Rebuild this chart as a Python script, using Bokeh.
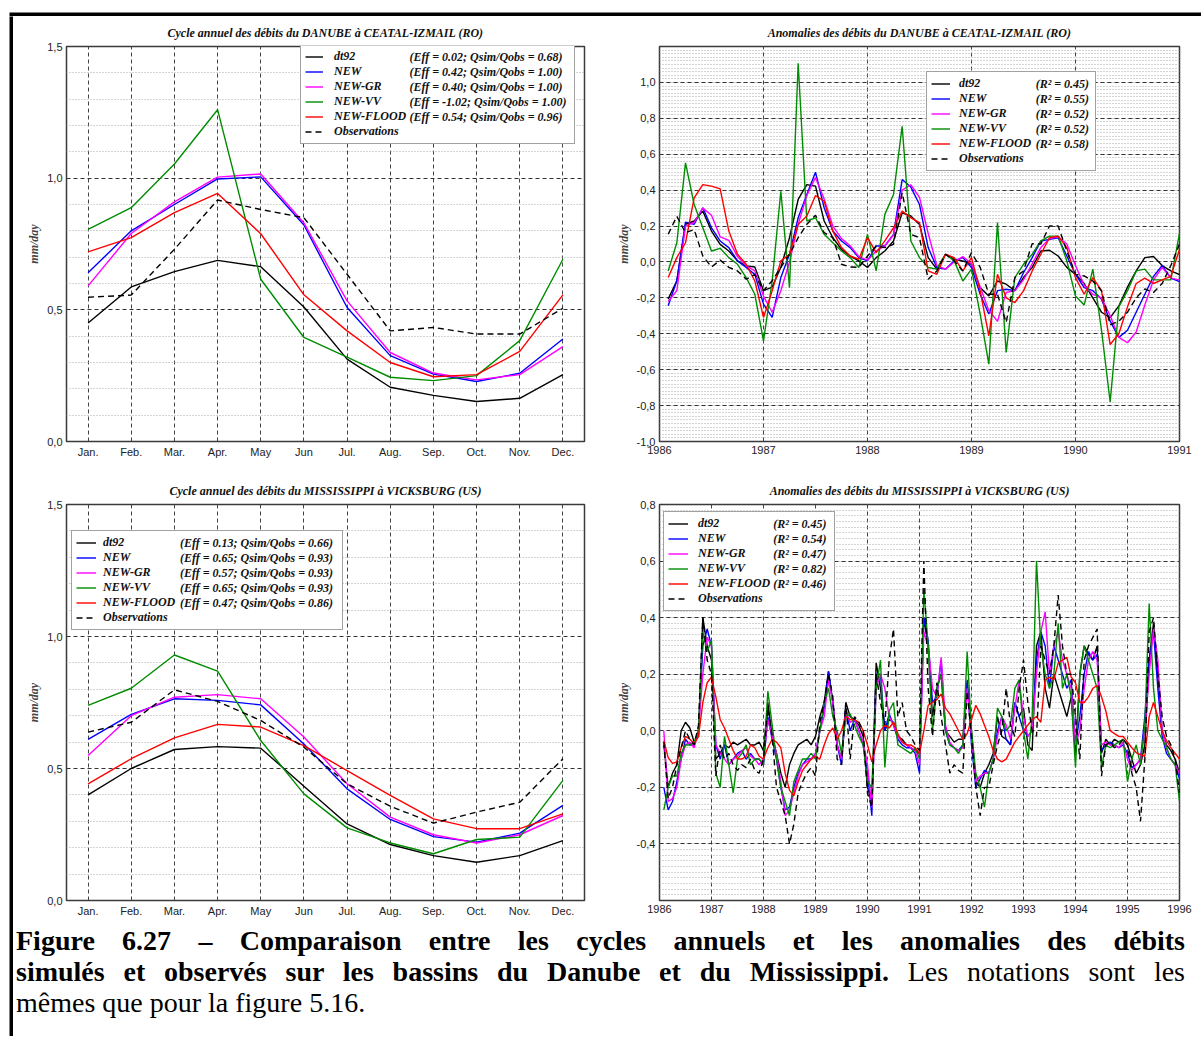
from bokeh.plotting import figure
from bokeh.models import (FixedTicker, NumeralTickFormatter, CustomJSTickFormatter, Legend,
                          LegendItem, Range1d, Div)
from bokeh.layouts import row, column
from bokeh.embed import file_html
from bokeh.resources import INLINE

SERIF = "Liberation Serif"
SANS = "Liberation Sans"

# ---------------- data ----------------
NAMES = ["dt92", "NEW", "NEW-GR", "NEW-VV", "NEW-FLOOD", "Observations"]
COLORS = ["#000000", "#0000ff", "#ff00ff", "#008c00", "#ff0000", "#000000"]
DASHES = ["solid", "solid", "solid", "solid", "solid", "6 4"]

MONTHS = list(range(1, 13))
MONTH_LABELS = ["Jan.", "Feb.", "Mar.", "Apr.", "May", "Jun",
                "Jul.", "Aug.", "Sep.", "Oct.", "Nov.", "Dec."]

# Danube annual cycle (mm/day)
dan_cyc_dt92 = [0.45, 0.587, 0.645, 0.688, 0.664, 0.511, 0.313, 0.206, 0.175, 0.152, 0.164, 0.254]
dan_cyc_new = [0.641, 0.80, 0.90, 0.997, 1.005, 0.822, 0.509, 0.326, 0.256, 0.228, 0.259, 0.389]
dan_cyc_gr = [0.591, 0.79, 0.91, 1.004, 1.016, 0.83, 0.534, 0.338, 0.26, 0.234, 0.254, 0.36]
dan_cyc_vv = [0.806, 0.888, 1.054, 1.26, 0.616, 0.395, 0.32, 0.244, 0.231, 0.25, 0.383, 0.692]
dan_cyc_flood = [0.72, 0.774, 0.869, 0.942, 0.789, 0.557, 0.42, 0.30, 0.246, 0.254, 0.342, 0.557]
dan_cyc_obs = [0.548, 0.556, 0.73, 0.917, 0.881, 0.85, 0.635, 0.42, 0.433, 0.408, 0.408, 0.506]
dan_cyc_stats = ["(Eff = 0.02; Qsim/Qobs = 0.68)", "(Eff = 0.42; Qsim/Qobs = 1.00)",
                 "(Eff = 0.40; Qsim/Qobs = 1.00)", "(Eff = -1.02; Qsim/Qobs = 1.00)",
                 "(Eff = 0.54; Qsim/Qobs = 0.96)"]

# Mississippi annual cycle (mm/day)
mis_cyc_dt92 = [0.40, 0.50, 0.572, 0.583, 0.577, 0.433, 0.29, 0.212, 0.17, 0.145, 0.17, 0.227]
mis_cyc_new = [0.61, 0.705, 0.764, 0.758, 0.741, 0.593, 0.423, 0.307, 0.242, 0.221, 0.255, 0.36]
mis_cyc_gr = [0.549, 0.70, 0.77, 0.78, 0.764, 0.619, 0.442, 0.316, 0.249, 0.218, 0.249, 0.322]
mis_cyc_vv = [0.739, 0.804, 0.93, 0.869, 0.606, 0.404, 0.275, 0.218, 0.177, 0.231, 0.24, 0.455]
mis_cyc_flood = [0.442, 0.537, 0.616, 0.667, 0.657, 0.587, 0.492, 0.398, 0.309, 0.272, 0.272, 0.328]
mis_cyc_obs = [0.638, 0.675, 0.798, 0.754, 0.682, 0.581, 0.442, 0.357, 0.293, 0.335, 0.372, 0.537]
mis_cyc_stats = ["(Eff = 0.13; Qsim/Qobs = 0.66)", "(Eff = 0.65; Qsim/Qobs = 0.93)",
                 "(Eff = 0.57; Qsim/Qobs = 0.93)", "(Eff = 0.65; Qsim/Qobs = 0.93)",
                 "(Eff = 0.47; Qsim/Qobs = 0.86)"]

# Danube monthly anomalies 1986-1990 (mm/day)
dan_time = [1986 + k / 12 for k in range(1, 61)]
dan_an_dt92 = [-0.207, -0.105, 0.21, 0.228, 0.283, 0.172, 0.098, 0.061, 0.006, -0.022, -0.028, -0.16,
               -0.14, -0.03, 0.135, 0.348, 0.431, 0.422, 0.228, 0.135, 0.07, 0.033, 0.006, -0.031,
               0.024, 0.061, 0.117, 0.274, 0.256, 0.209, 0.024, -0.04, 0.043, 0.015, 0.006, -0.013,
               -0.143, -0.189, -0.106, -0.124, -0.16, -0.087, -0.03, 0.061, 0.065, 0.033, -0.03, -0.069,
               -0.12, -0.2, -0.28, -0.31, -0.245, -0.14, -0.05, 0.024, 0.03, -0.02, -0.05, -0.07]
dan_an_new = [-0.244, -0.105, 0.222, 0.21, 0.302, 0.19, 0.117, 0.08, 0.006, -0.031, -0.069, -0.235,
              -0.309, -0.087, 0.043, 0.246, 0.376, 0.5, 0.302, 0.172, 0.117, 0.08, 0.024, 0.006,
              0.089, 0.089, 0.154, 0.459, 0.417, 0.32, 0.08, -0.031, -0.04, 0.006, 0.024, -0.031,
              -0.18, -0.29, -0.16, -0.152, -0.16, -0.06, 0.024, 0.117, 0.126, 0.135, 0.033, -0.069,
              -0.143, -0.16, -0.207, -0.33, -0.42, -0.38, -0.28, -0.18, -0.08, -0.02, -0.09, -0.11]
dan_an_gr = [-0.22, -0.16, 0.2, 0.22, 0.3, 0.26, 0.14, 0.12, 0.03, -0.02, -0.05, -0.19,
             -0.28, -0.16, 0.0, 0.21, 0.37, 0.47, 0.35, 0.2, 0.13, 0.09, 0.03, 0.01,
             0.06, 0.09, 0.15, 0.4, 0.43, 0.36, 0.16, -0.02, -0.04, 0.0, 0.03, -0.01,
             -0.14, -0.27, -0.33, -0.17, -0.16, -0.1, -0.01, 0.08, 0.13, 0.14, 0.1, -0.02,
             -0.13, -0.18, -0.2, -0.3, -0.42, -0.45, -0.39, -0.24, -0.1, -0.03, -0.09, -0.1]
dan_an_vv = [-0.05, 0.107, 0.552, 0.32, 0.19, 0.061, 0.076, 0.024, -0.013, -0.087, -0.18, -0.439,
             -0.106, 0.394, -0.143, 1.107, 0.228, 0.246, 0.154, 0.107, 0.061, 0.024, -0.031, 0.154,
             -0.05, 0.265, 0.376, 0.756, 0.117, 0.024, -0.031, -0.04, 0.043, 0.006, -0.106, -0.04,
             -0.29, -0.569, 0.219, -0.504, -0.087, -0.013, 0.043, 0.117, 0.144, 0.144, 0.006, -0.19,
             -0.24, -0.04, -0.38, -0.78, -0.25, -0.16, -0.05, -0.04, -0.1, -0.1, -0.1, 0.16]
dan_an_flood = [-0.087, 0.024, 0.107, 0.357, 0.431, 0.422, 0.407, 0.172, 0.043, -0.013, -0.106, -0.309,
                -0.161, 0.006, 0.043, 0.209, 0.256, 0.37, 0.339, 0.172, 0.08, 0.033, 0.015, 0.135,
                0.052, 0.117, 0.19, 0.283, 0.246, 0.219, -0.05, -0.069, 0.043, 0.024, -0.05, 0.024,
                -0.161, -0.411, -0.069, -0.2, -0.226, -0.161, -0.05, 0.043, 0.135, 0.144, 0.08, -0.087,
                -0.18, -0.087, -0.16, -0.46, -0.4, -0.25, -0.12, -0.09, -0.12, -0.1, -0.08, 0.07]
dan_an_obs = [0.154, 0.254, 0.163, 0.18, 0.033, -0.028, 0.01, -0.03, -0.05, -0.096, -0.07, -0.16,
              -0.105, -0.03, 0.043, 0.135, 0.21, 0.26, 0.163, 0.135, -0.013, -0.028, -0.03, 0.033,
              0.089, 0.08, 0.098, 0.385, 0.154, 0.135, -0.096, -0.05, 0.043, 0.006, -0.05, 0.052,
              -0.03, -0.18, -0.18, -0.337, -0.087, -0.05, 0.102, 0.1, 0.2, 0.2, 0.061, -0.069,
              -0.078, -0.106, -0.16, -0.35, -0.33, -0.28, -0.2, -0.15, -0.17, -0.12, -0.02, 0.1]
dan_an_stats = ["(R\u00b2 = 0.45)", "(R\u00b2 = 0.55)", "(R\u00b2 = 0.52)",
                "(R\u00b2 = 0.52)", "(R\u00b2 = 0.58)"]

# Mississippi monthly anomalies 1986-1995 (mm/day)
mis_time = [1986 + k / 12 for k in range(1, 121)]
mis_an_dt92 = [-0.05, -0.2, -0.15, -0.12, 0.0, 0.03, 0.01, -0.04, -0.02, 0.4, 0.3, 0.25,
               -0.1, -0.08, -0.05, -0.06, -0.04, -0.05, -0.04, -0.03, -0.05, -0.05, -0.04, -0.07,
               0.1, -0.02, -0.08, -0.15, -0.2, -0.12, -0.08, -0.05, -0.04, -0.03, -0.05, -0.02,
               0.05, 0.1, 0.21, 0.1, -0.05, -0.1, 0.1, 0.05, 0.04, 0.02, -0.02, -0.2,
               -0.25, 0.24, 0.15, 0.0, 0.04, 0.03, -0.02, -0.03, -0.05, -0.06, -0.07, -0.08,
               0.4, 0.3, 0.05, 0.15, 0.2, 0.0, -0.02, -0.04, -0.03, -0.03, 0.17, 0.0,
               -0.18, -0.2, -0.15, -0.12, -0.08, 0.05, -0.02, -0.03, -0.05, 0.1, 0.05, 0.08,
               -0.05, -0.07, 0.3, 0.35, 0.15, 0.08, 0.2, 0.15, 0.1, 0.05, 0.12, -0.08,
               0.2, 0.3, 0.27, 0.25, 0.3, -0.08, -0.03, -0.05, -0.03, -0.04, -0.03, -0.05,
               -0.1, -0.15, -0.12, -0.05, 0.25, 0.38, 0.2, 0.0, -0.05, -0.07, -0.1, -0.15]
mis_an_new = [-0.2, -0.28, -0.25, -0.18, -0.1, -0.03, -0.05, -0.05, 0.0, 0.3, 0.36, 0.3,
              -0.05, -0.1, -0.05, -0.12, -0.1, -0.08, -0.07, -0.1, -0.08, -0.1, -0.1, -0.12,
              0.05, -0.03, -0.1, -0.2, -0.28, -0.27, -0.2, -0.15, -0.12, -0.1, -0.1, -0.08,
              0.0, 0.08, 0.21, 0.1, -0.05, -0.12, 0.08, 0.0, 0.04, 0.0, -0.05, -0.15,
              -0.3, 0.2, 0.2, 0.0, 0.06, 0.02, -0.03, -0.05, -0.06, -0.06, -0.08, -0.15,
              0.4, 0.32, 0.1, 0.12, 0.25, 0.0, -0.05, -0.06, -0.07, -0.05, 0.18, -0.05,
              -0.2, -0.17, -0.14, -0.15, -0.1, 0.0, 0.05, -0.03, -0.05, 0.1, 0.05, 0.0,
              -0.02, 0.0, 0.25, 0.35, 0.3, 0.15, 0.3, 0.25, 0.2, 0.15, 0.18, -0.05,
              0.05, 0.2, 0.28, 0.25, 0.27, -0.07, -0.05, -0.04, -0.05, -0.06, -0.05, -0.08,
              -0.13, -0.12, -0.1, 0.05, 0.25, 0.35, 0.15, -0.02, -0.08, -0.1, -0.12, -0.17]
mis_an_gr = [0.0, -0.25, -0.24, -0.2, -0.1, -0.05, -0.04, -0.06, 0.0, 0.2, 0.33, 0.3,
             -0.05, -0.08, -0.1, -0.12, -0.1, -0.09, -0.07, -0.06, -0.09, -0.1, -0.12, -0.1,
             0.04, -0.02, -0.08, -0.18, -0.3, -0.28, -0.22, -0.16, -0.12, -0.11, -0.1, -0.08,
             0.0, 0.05, 0.18, 0.1, -0.05, -0.1, 0.07, 0.03, 0.04, 0.0, -0.04, -0.12,
             -0.27, 0.15, 0.2, 0.15, 0.05, 0.02, -0.02, -0.04, -0.05, -0.06, -0.07, -0.12,
             0.35, 0.3, 0.15, 0.12, 0.26, 0.02, -0.04, -0.06, -0.07, -0.06, 0.15, -0.02,
             -0.18, -0.16, -0.15, -0.15, -0.1, -0.02, 0.05, 0.02, -0.03, 0.08, 0.18, 0.05,
             -0.02, 0.0, 0.2, 0.35, 0.42, 0.2, 0.3, 0.35, 0.25, 0.2, 0.15, -0.05,
             0.0, 0.15, 0.25, 0.28, 0.25, -0.05, -0.04, -0.05, -0.05, -0.06, -0.04, -0.1,
             -0.14, -0.12, -0.1, 0.0, 0.2, 0.36, 0.25, 0.0, -0.06, -0.1, -0.12, -0.15]
mis_an_vv = [-0.28, -0.2, -0.16, -0.16, -0.08, -0.05, -0.05, -0.04, 0.0, 0.35, 0.28, 0.32,
             -0.15, -0.2, -0.02, -0.12, -0.22, -0.1, -0.08, -0.05, -0.12, -0.1, -0.1, -0.12,
             0.14, 0.02, -0.1, -0.2, -0.25, -0.3, -0.18, -0.14, -0.1, -0.1, -0.08, -0.1,
             0.0, 0.1, 0.15, 0.05, 0.0, -0.08, 0.05, 0.06, 0.02, -0.02, -0.05, -0.18,
             -0.2, 0.15, 0.25, -0.13, 0.07, 0.1, -0.05, -0.06, -0.07, -0.08, -0.06, -0.1,
             0.5, 0.3, 0.0, 0.15, 0.2, 0.0, -0.05, -0.06, -0.08, -0.05, 0.28, 0.0,
             -0.15, -0.2, -0.27, -0.15, -0.1, 0.08, 0.05, 0.0, 0.02, 0.15, 0.18, 0.0,
             -0.1, 0.05, 0.6, 0.3, 0.2, 0.15, 0.2, 0.38, 0.15, 0.2, 0.12, -0.13,
             0.2, 0.3, 0.25, 0.2, 0.15, -0.13, -0.05, -0.06, -0.05, -0.04, -0.03, -0.18,
             -0.1, -0.05, -0.12, 0.02, 0.45, 0.15, 0.0, -0.03, -0.06, -0.1, -0.12, -0.25]
mis_an_flood = [-0.035, -0.095, -0.115, -0.11, -0.06, -0.02, -0.03, -0.045, -0.02, 0.1, 0.17, 0.19,
                0.12, 0.04, 0.01, -0.03, -0.07, -0.1, -0.1, -0.09, -0.05, -0.06, -0.09, -0.1,
                -0.06, -0.03, -0.04, -0.06, -0.15, -0.21, -0.23, -0.18, -0.14, -0.12, -0.1, -0.09,
                -0.1, -0.05, -0.01, 0.01, -0.03, 0.0, 0.05, 0.04, 0.04, 0.03, 0.0, -0.05,
                -0.11, -0.05, 0.0, 0.02, 0.01, 0.03, -0.01, -0.04, -0.05, -0.05, -0.06, -0.08,
                0.0, 0.09, 0.1, 0.11, 0.13, 0.08, 0.06, 0.03, 0.0, -0.03, -0.01, 0.04,
                0.09, 0.06, 0.02, -0.02, -0.07, -0.1, -0.11, -0.1, -0.07, -0.04, -0.02, 0.0,
                0.02, 0.04, 0.05, 0.03, 0.18, 0.19, 0.18, 0.24, 0.25, 0.26, 0.19, 0.17,
                0.1, 0.1, 0.12, 0.15, 0.16, 0.12, 0.07, 0.0, -0.01, -0.02, -0.02, -0.04,
                -0.06, -0.077, -0.085, -0.09, 0.05, 0.1, 0.05, 0.0, -0.035, -0.06, -0.08, -0.1]
mis_an_obs = [-0.04, -0.24, -0.2, -0.12, -0.06, 0.0, -0.03, -0.05, 0.02, 0.4, 0.25, 0.2,
              -0.16, -0.05, -0.1, -0.08, -0.12, -0.14, -0.12, -0.13, -0.1, -0.14, -0.15, -0.1,
              0.08, -0.02, -0.2, -0.25, -0.3, -0.4, -0.33, -0.22, -0.18, -0.15, -0.13, -0.16,
              0.03, 0.1, 0.2, 0.12, -0.1, -0.12, 0.1, -0.1, 0.05, 0.03, 0.0, -0.22,
              -0.27, 0.2, 0.1, 0.02, 0.25, 0.36, 0.05, 0.1, 0.0, -0.02, -0.05, -0.07,
              0.6, 0.15, -0.02, 0.17, 0.05, -0.05, -0.15, -0.12, -0.14, -0.15, 0.14, -0.02,
              -0.2, -0.3, -0.2, -0.2, -0.12, -0.05, 0.0, 0.15, 0.02, -0.02, 0.15, 0.25,
              0.1, 0.0, -0.02, 0.3, 0.25, 0.2, 0.3, 0.48, 0.3, 0.2, 0.2, 0.05,
              -0.1, 0.25, 0.3, 0.33, 0.36, -0.16, -0.05, -0.04, -0.06, -0.05, -0.03, -0.05,
              -0.15, -0.2, -0.32, -0.1, 0.35, 0.4, 0.2, 0.05, -0.02, -0.05, -0.1, -0.22]
mis_an_stats = ["(R\u00b2 = 0.45)", "(R\u00b2 = 0.54)", "(R\u00b2 = 0.47)",
                "(R\u00b2 = 0.82)", "(R\u00b2 = 0.46)"]

CYC_TICKS = [0.0, 0.5, 1.0, 1.5]
CYC_MINOR = [0.1, 0.2, 0.3, 0.4, 0.6, 0.7, 0.8, 0.9, 1.1, 1.2, 1.3, 1.4]
DAN_AN_TICKS = [-1.0, -0.8, -0.6, -0.4, -0.2, 0.0, 0.2, 0.4, 0.6, 0.8, 1.0]
DAN_AN_MINOR = [round(-1.0 + 0.02 * i, 2) for i in range(111)]
MIS_AN_TICKS = [-0.4, -0.2, 0.0, 0.2, 0.4, 0.6, 0.8]
MIS_AN_MINOR = [round(-0.6 + 0.02 * i, 2) for i in range(71)]
DAN_YEARS = [1986, 1987, 1988, 1989, 1990, 1991]
MIS_YEARS = list(range(1986, 1997))

COMMA_FMT = CustomJSTickFormatter(code="return tick.toFixed(1).replace('.', ',');")
ROW_H = 15


# ---------------- helpers ----------------
def make_fig(title, xr, yr, width, height, bl, br, bt, bb, title_standoff):
    p = figure(width=width, height=height, x_range=xr, y_range=yr, title=title,
               output_backend="svg", toolbar_location=None,
               min_border_left=bl, min_border_right=br,
               min_border_top=bt, min_border_bottom=bb)
    p.title.align = "center"
    p.title.text_font = SERIF
    p.title.text_font_style = "bold italic"
    p.title.text_font_size = "12px"
    p.title.text_color = "#111"
    p.title.standoff = title_standoff
    p.outline_line_color = "#3a3a3a"
    p.outline_line_width = 1.5
    p.background_fill_color = "white"
    p.border_fill_color = "white"
    for ax in (p.xaxis[0], p.yaxis[0]):
        ax.axis_line_color = None
        ax.major_tick_line_color = None
        ax.minor_tick_line_color = None
        ax.major_tick_out = 0
        ax.major_tick_in = 0
        ax.minor_tick_out = 0
        ax.minor_tick_in = 0
        ax.major_label_text_font = SANS
        ax.major_label_text_font_size = "11px"
        ax.major_label_text_color = "#222"
        ax.major_label_standoff = 4
    p.yaxis.axis_label = "mm/day"
    p.yaxis.axis_label_text_font = SERIF
    p.yaxis.axis_label_text_font_style = "bold italic"
    p.yaxis.axis_label_text_font_size = "12px"
    p.yaxis.axis_label_standoff = 3
    p.yaxis.formatter = COMMA_FMT
    p.xgrid.grid_line_color = "#444"
    p.xgrid.grid_line_dash = "4 3"
    p.xgrid.grid_line_width = 1
    p.ygrid.grid_line_color = "#333"
    p.ygrid.grid_line_dash = "4 3"
    p.ygrid.grid_line_width = 1
    p.ygrid.minor_grid_line_color = "#a8a8a8"
    p.ygrid.minor_grid_line_dash = "1 2"
    p.ygrid.minor_grid_line_width = 1
    return p


def draw_series(p, xs, series):
    rends = []
    for ys, col, dash in zip(series, COLORS, DASHES):
        rends.append(p.line(xs, ys, line_color=col, line_width=1.4, line_dash=dash))
    return rends


def add_legends(p, rends, stats, loc_a, vx_b, glyph_w, standoff, label_w):
    common = dict(padding=4, spacing=0, glyph_height=ROW_H, label_height=ROW_H,
                  label_text_font=SERIF, label_text_font_style="bold italic",
                  label_text_font_size="12px", label_text_color="#111", margin=0,
                  border_line_width=1)
    la = Legend(items=[LegendItem(label=n, renderers=[r]) for n, r in zip(NAMES, rends)],
                location=loc_a, glyph_width=glyph_w, label_standoff=standoff,
                label_width=label_w, border_line_color="#444",
                background_fill_color="white", background_fill_alpha=1.0, **common)
    dummies = [p.line(x=[], y=[], line_alpha=0) for _ in stats]
    # second column of the legend: same rows, transparent box (one row fewer)
    loc_b = (vx_b, loc_a[1] + ROW_H)
    lb = Legend(items=[LegendItem(label=s, renderers=[d]) for s, d in zip(stats, dummies)],
                location=loc_b, glyph_width=1, label_standoff=0, label_width=10,
                border_line_color="white", border_line_alpha=0.0,
                background_fill_alpha=0.0, **common)
    p.add_layout(la, "center")
    p.add_layout(lb, "center")


def black_bar(width, height, left, top):
    b = figure(width=width, height=height, output_backend="svg", toolbar_location=None,
               x_axis_type=None, y_axis_type=None, min_border_left=left,
               min_border_top=top, min_border_right=0, min_border_bottom=0)
    b.grid.visible = False
    b.outline_line_color = None
    b.background_fill_color = "black"
    b.border_fill_color = "white"
    return b


# ---------------- panels ----------------
p1 = make_fig("Cycle annuel des débits du DANUBE à CEATAL-IZMAIL (RO)",
              Range1d(0.5, 12.5), Range1d(0.0, 1.5), 597, 456, 53, 26, 29, 31, 13)
p1.xaxis.ticker = FixedTicker(ticks=MONTHS)
p1.xaxis.major_label_overrides = {m: lab for m, lab in zip(MONTHS, MONTH_LABELS)}
p1.yaxis.ticker = FixedTicker(ticks=CYC_TICKS, minor_ticks=CYC_MINOR)
r1 = draw_series(p1, MONTHS, [dan_cyc_dt92, dan_cyc_new, dan_cyc_gr, dan_cyc_vv, dan_cyc_flood, dan_cyc_obs])
add_legends(p1, r1, dan_cyc_stats, (234, 297), 338.5, 18, 11, 236)

p2 = make_fig("Anomalies des débits du DANUBE à CEATAL-IZMAIL (RO)",
              Range1d(1986, 1991), Range1d(-1.0, 1.2), 583, 456, 49, 14, 30, 31, 13)
p2.xaxis.ticker = FixedTicker(ticks=DAN_YEARS)
p2.xaxis.formatter = NumeralTickFormatter(format="0")
p2.yaxis.ticker = FixedTicker(ticks=DAN_AN_TICKS, minor_ticks=DAN_AN_MINOR)
r2 = draw_series(p2, dan_time, [dan_an_dt92, dan_an_new, dan_an_gr, dan_an_vv, dan_an_flood, dan_an_obs])
add_legends(p2, r2, dan_an_stats, (267, 270), 371.7, 19, 9, 132)

p3 = make_fig("Cycle annuel des débits du MISSISSIPPI à VICKSBURG (US)",
              Range1d(0.5, 12.5), Range1d(0.0, 1.5), 597, 453, 53, 26, 32, 25, 13)
p3.xaxis.ticker = FixedTicker(ticks=MONTHS)
p3.xaxis.major_label_overrides = {m: lab for m, lab in zip(MONTHS, MONTH_LABELS)}
p3.yaxis.ticker = FixedTicker(ticks=CYC_TICKS, minor_ticks=CYC_MINOR)
r3 = draw_series(p3, MONTHS, [mis_cyc_dt92, mis_cyc_new, mis_cyc_gr, mis_cyc_vv, mis_cyc_flood, mis_cyc_obs])
add_legends(p3, r3, mis_cyc_stats, (5, 270), 108.9, 20, 7, 235)

p4 = make_fig("Anomalies des débits du MISSISSIPPI à VICKSBURG (US)",
              Range1d(1986, 1996), Range1d(-0.6, 0.8), 583, 453, 49, 14, 32, 25, 13)
p4.xaxis.ticker = FixedTicker(ticks=MIS_YEARS)
p4.xaxis.formatter = NumeralTickFormatter(format="0")
p4.yaxis.ticker = FixedTicker(ticks=MIS_AN_TICKS, minor_ticks=MIS_AN_MINOR)
r4 = draw_series(p4, mis_time, [mis_an_dt92, mis_an_new, mis_an_gr, mis_an_vv, mis_an_flood, mis_an_obs])
add_legends(p4, r4, mis_an_stats, (4, 289), 109.2, 20, 10, 132)

# ---------------- caption & page frame ----------------
caption_html = (
    "<div style=\"width:1169px;font-family:'Liberation Serif',serif;font-size:28px;"
    "line-height:31px;color:#000;margin-left:3px;\">"
    "<div style=\"width:1169px;text-align:justify;text-align-last:justify;\"><b>Figure 6.27 \u2013 "
    "Comparaison entre les cycles annuels et les anomalies des débits</b></div>"
    "<div style=\"width:1169px;text-align:justify;text-align-last:justify;\"><b>simulés et observés "
    "sur les bassins du Danube et du Mississippi.</b> Les notations sont les</div>"
    "<div>mêmes que pour la figure 5.16.</div></div>"
)
caption = Div(text=caption_html, width=1176, height=100, margin=0)

top_bar = black_bar(1201, 16, 9, 12)
left_bar = black_bar(13, 1020, 9, 0)

panels = column(row(p1, p2), row(p3, p4), caption)
page = column(top_bar, row(left_bar, panels))

with open("out.html", "w") as f:
    f.write(file_html(page, INLINE, title="Figure 6.27"))
